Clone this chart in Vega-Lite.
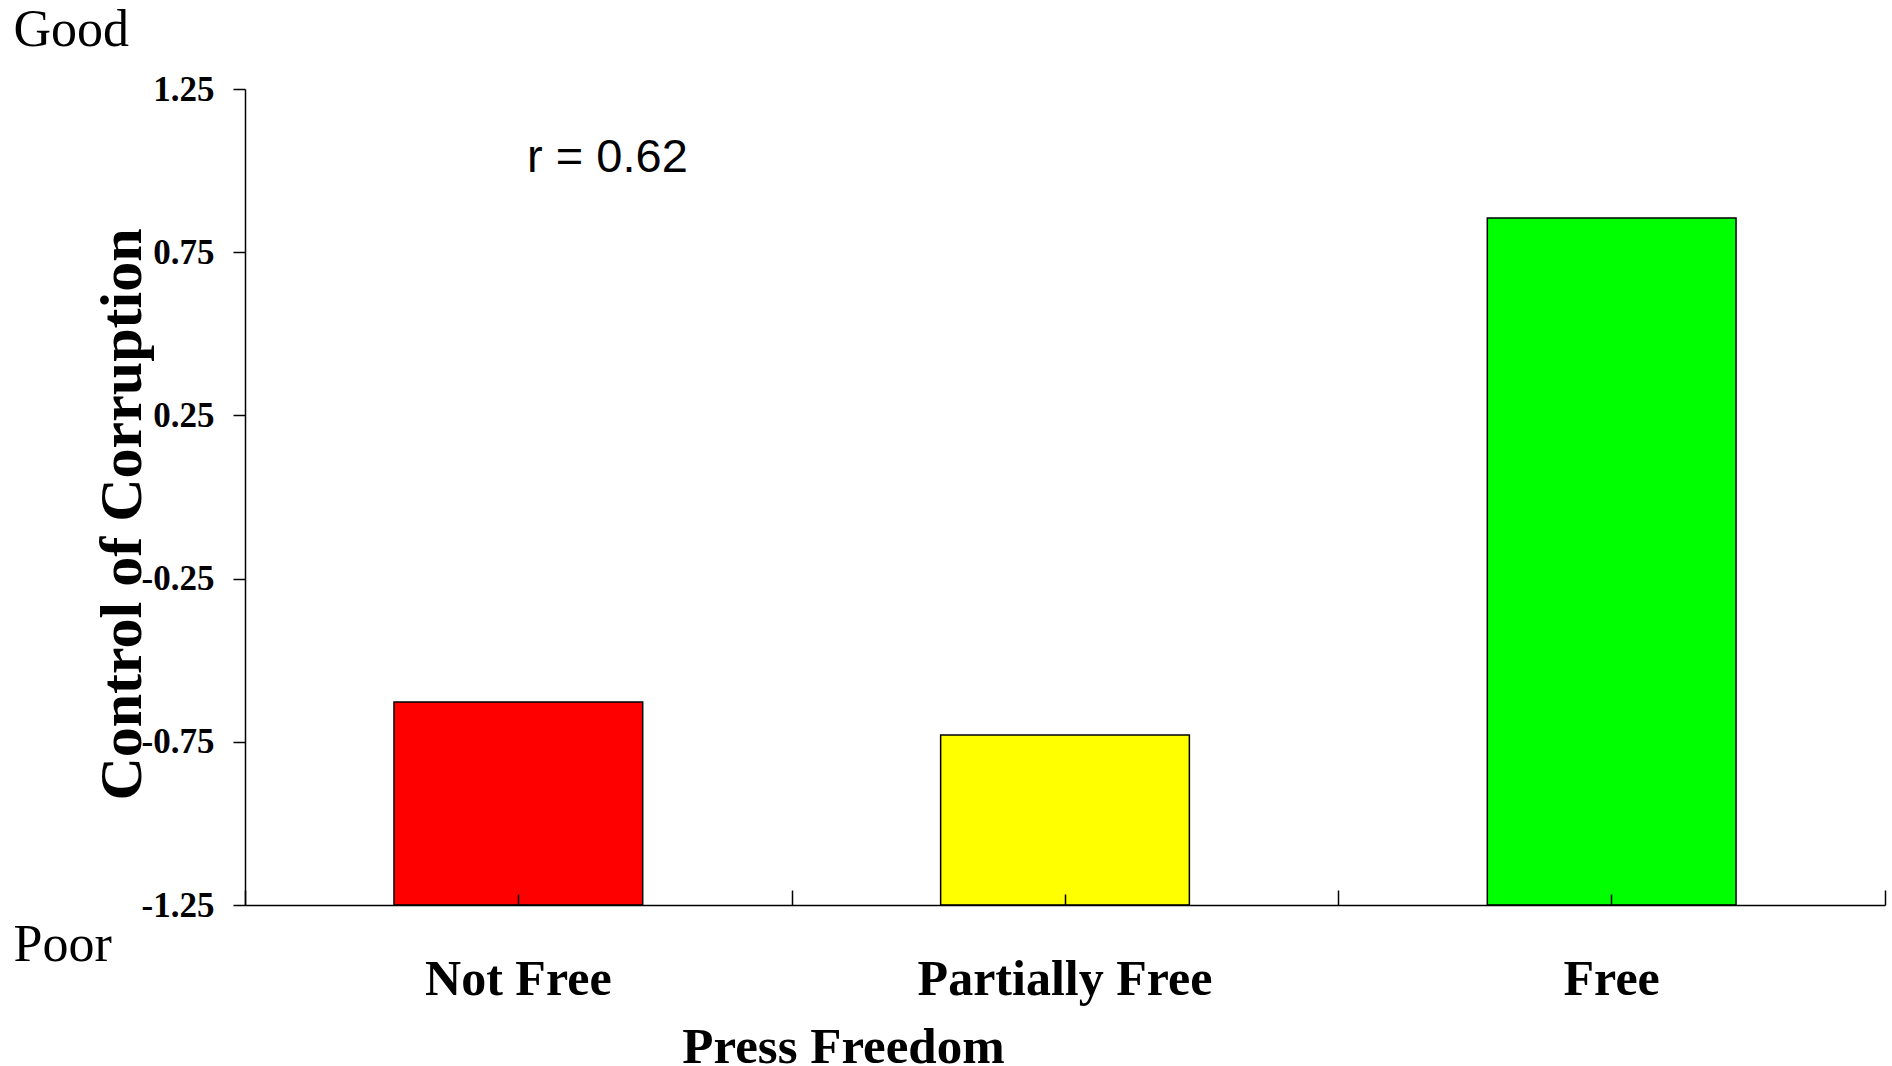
{
  "$schema": "https://vega.github.io/schema/vega-lite/v6.json",
  "width": 1640,
  "height": 816,
  "autosize": {"type": "none"},
  "padding": {"left": 245, "top": 89, "right": 7, "bottom": 161},
  "background": "white",
  "config": {
    "view": {"stroke": null},
    "axis": {"domainColor": "black", "tickColor": "black", "labelColor": "black", "titleColor": "black", "grid": false}
  },
  "layer": [
    {
      "data": {"values": [
        {"freedom": "Not Free", "corruption": -0.628},
        {"freedom": "Partially Free", "corruption": -0.729},
        {"freedom": "Free", "corruption": 0.855}
      ]},
      "mark": {"type": "bar", "width": {"band": 0.455}, "stroke": "black", "strokeWidth": 1.5},
      "encoding": {
        "x": {
          "field": "freedom", "type": "nominal",
          "sort": ["Not Free", "Partially Free", "Free"],
          "scale": {"domain": ["Not Free", "Partially Free", "Free"], "paddingInner": 0, "paddingOuter": 0},
          "axis": {
            "orient": "bottom", "zindex": 1, "domain": false, "ticks": true, "tickSize": -11, "tickWidth": 1.5,
            "labelAngle": 0, "labelLimit": 0, "labelFont": "Liberation Serif", "labelFontWeight": "bold", "labelFontSize": 50,
            "labelBaseline": "alphabetic", "labelPadding": 100,
            "title": "Press Freedom", "titleFont": "Liberation Serif", "titleFontWeight": "bold", "titleFontSize": 51,
            "titleX": 598, "titleY": 157, "titleBaseline": "alphabetic", "titleAlign": "center", "titleLimit": 0
          }
        },
        "y": {
          "field": "corruption", "type": "quantitative",
          "scale": {"domain": [-1.25, 1.25], "nice": false, "zero": false},
          "axis": {
            "orient": "left", "zindex": 1, "values": [-1.25, -0.75, -0.25, 0.25, 0.75, 1.25],
            "labelExpr": "datum.value < 0 ? '-' + format(-datum.value, '.2f') : format(datum.value, '.2f')",
            "tickSize": 12, "tickWidth": 1.5, "domainWidth": 1.5, "labelPadding": 19,
            "labelFlush": false, "labelOverlap": false,
            "labelFont": "Liberation Serif", "labelFontWeight": "bold", "labelFontSize": 35, "labelBaseline": "middle",
            "title": "Control of Corruption", "titleFont": "Liberation Serif", "titleFontWeight": "bold", "titleFontSize": 60,
            "titleX": -105, "titleY": 425, "titleAngle": -90, "titleBaseline": "alphabetic", "titleAlign": "center", "titleLimit": 0
          }
        },
        "y2": {"datum": -1.25},
        "color": {
          "field": "freedom", "type": "nominal",
          "scale": {"domain": ["Not Free", "Partially Free", "Free"], "range": ["#ff0000", "#ffff00", "#00ff00"]},
          "legend": null
        }
      }
    },
    {
      "data": {"values": [{"freedom": "Not Free", "y": 0.996, "note": "r = 0.62"}]},
      "mark": {"type": "text", "align": "left", "baseline": "alphabetic", "font": "Liberation Sans", "fontSize": 47, "color": "black"},
      "encoding": {
        "x": {
          "field": "freedom", "type": "nominal", "bandPosition": 0.516,
          "axis": {
            "orient": "bottom", "zindex": 1, "tickBand": "extent", "tickSize": -15, "tickWidth": 1.5,
            "labels": false, "domain": true, "domainWidth": 1.5, "title": null
          }
        },
        "y": {
          "field": "y", "type": "quantitative",
          "axis": {
            "orient": "left", "values": [1.25, -1.25],
            "labelExpr": "datum.value > 0 ? 'Good' : 'Poor'",
            "ticks": false, "domain": false, "labelAlign": "left", "labelPadding": 232,
            "labelBaseline": "alphabetic", "labelFlush": false, "labelOverlap": false,
            "labelOffset": {"condition": {"test": "datum.value > 0", "value": -44}, "value": 55},
            "labelFont": "Liberation Serif", "labelFontSize": 52, "labelFontWeight": "normal", "title": null
          }
        },
        "text": {"field": "note"}
      }
    }
  ],
  "resolve": {"axis": {"x": "independent", "y": "independent"}}
}
